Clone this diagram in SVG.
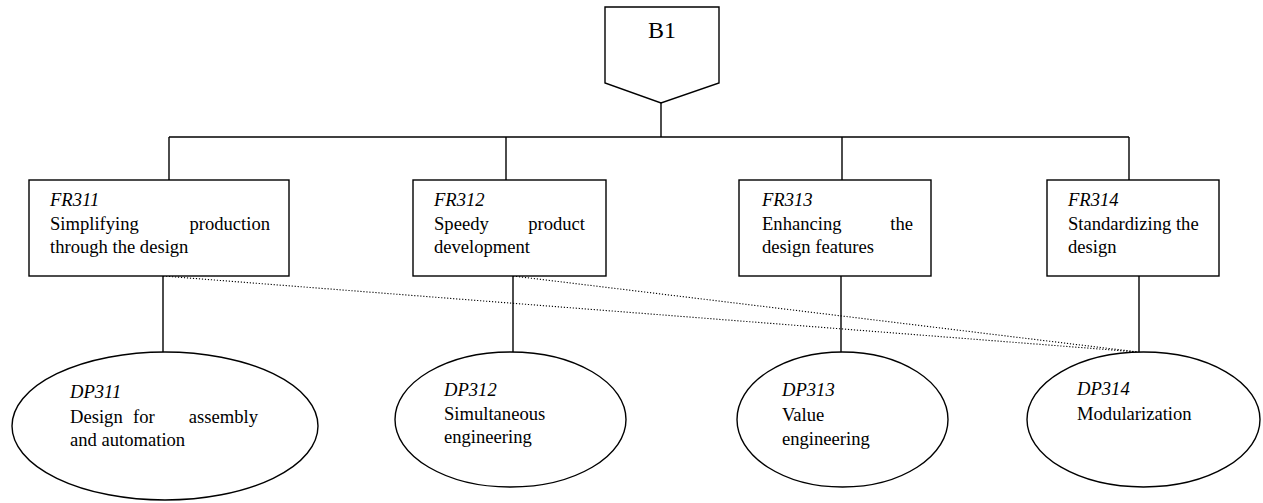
<svg xmlns="http://www.w3.org/2000/svg" width="1263" height="503" viewBox="0 0 1263 503">
  <style>
    .shape { fill: #ffffff; stroke: #000000; stroke-width: 1.4; }
    .wire { fill: none; stroke: #000000; stroke-width: 1.4; }
    .dotted { fill: none; stroke: #000000; stroke-width: 1.1; stroke-dasharray: 1.2 1.8; }
    text { font-size: 18.6px; fill: #000000; }
    .code { font-style: italic; }
    .title { font-size: 24px; }
  </style>
  <rect width="1263" height="503" fill="#ffffff"/>

  <!-- connectors -->
  <g id="connectors">
    <line class="wire" x1="661" y1="103" x2="661" y2="137"/>
    <line class="wire" x1="169" y1="137" x2="1129" y2="137"/>
    <line class="wire" x1="169" y1="137" x2="169" y2="180"/>
    <line class="wire" x1="506" y1="137" x2="506" y2="180"/>
    <line class="wire" x1="842" y1="137" x2="842" y2="180"/>
    <line class="wire" x1="1129" y1="137" x2="1129" y2="180"/>
    <line class="wire" x1="163" y1="276" x2="163" y2="354"/>
    <line class="wire" x1="513" y1="276" x2="513" y2="354"/>
    <line class="wire" x1="841" y1="276" x2="841" y2="354"/>
    <line class="wire" x1="1139" y1="276" x2="1139" y2="356"/>
    <line class="dotted" x1="163" y1="276" x2="1138" y2="352"/>
    <line class="dotted" x1="513" y1="276" x2="1138" y2="352"/>
  </g>

  <!-- all labels share one serif face -->
  <g font-family="'Liberation Serif', 'Times New Roman', 'DejaVu Serif', serif">

  <!-- top node -->
  <g id="B1">
    <polygon class="shape" points="605,7 719,7 719,83 661,103 605,83"/>
    <text class="title" x="662" y="38" text-anchor="middle">B1</text>
  </g>

  <!-- functional requirements -->
  <g id="FR311">
    <rect class="shape" x="29" y="180" width="260" height="96"/>
    <text class="code" x="50" y="206">FR311</text>
    <text x="50" y="230">Simplifying</text>
    <text x="270" y="230" text-anchor="end">production</text>
    <text x="50" y="253">through the design</text>
  </g>
  <g id="FR312">
    <rect class="shape" x="413" y="180" width="193" height="96"/>
    <text class="code" x="434" y="206">FR312</text>
    <text x="434" y="230">Speedy</text>
    <text x="585" y="230" text-anchor="end">product</text>
    <text x="434" y="253">development</text>
  </g>
  <g id="FR313">
    <rect class="shape" x="739" y="180" width="192" height="96"/>
    <text class="code" x="762" y="206">FR313</text>
    <text x="762" y="230">Enhancing</text>
    <text x="913" y="230" text-anchor="end">the</text>
    <text x="762" y="253">design features</text>
  </g>
  <g id="FR314">
    <rect class="shape" x="1047" y="180" width="172" height="96"/>
    <text class="code" x="1068" y="206">FR314</text>
    <text x="1068" y="230">Standardizing the</text>
    <text x="1068" y="253">design</text>
  </g>

  <!-- design parameters -->
  <g id="DP311">
    <ellipse class="shape" cx="165" cy="426" rx="153" ry="74"/>
    <text class="code" x="70" y="398">DP311</text>
    <text x="70" y="423">Design</text>
    <text x="133" y="423">for</text>
    <text x="258" y="423" text-anchor="end">assembly</text>
    <text x="70" y="446">and automation</text>
  </g>
  <g id="DP312">
    <ellipse class="shape" cx="510.5" cy="419.5" rx="115.5" ry="67.5"/>
    <text class="code" x="444" y="396">DP312</text>
    <text x="444" y="420">Simultaneous</text>
    <text x="444" y="443">engineering</text>
  </g>
  <g id="DP313">
    <ellipse class="shape" cx="842.5" cy="419.5" rx="105.5" ry="67.5"/>
    <text class="code" x="782" y="396">DP313</text>
    <text x="782" y="421">Value</text>
    <text x="782" y="445">engineering</text>
  </g>
  <g id="DP314">
    <ellipse class="shape" cx="1143.5" cy="419.5" rx="116.5" ry="67.5"/>
    <text class="code" x="1077" y="395">DP314</text>
    <text x="1077" y="420">Modularization</text>
  </g>

  </g>
</svg>
